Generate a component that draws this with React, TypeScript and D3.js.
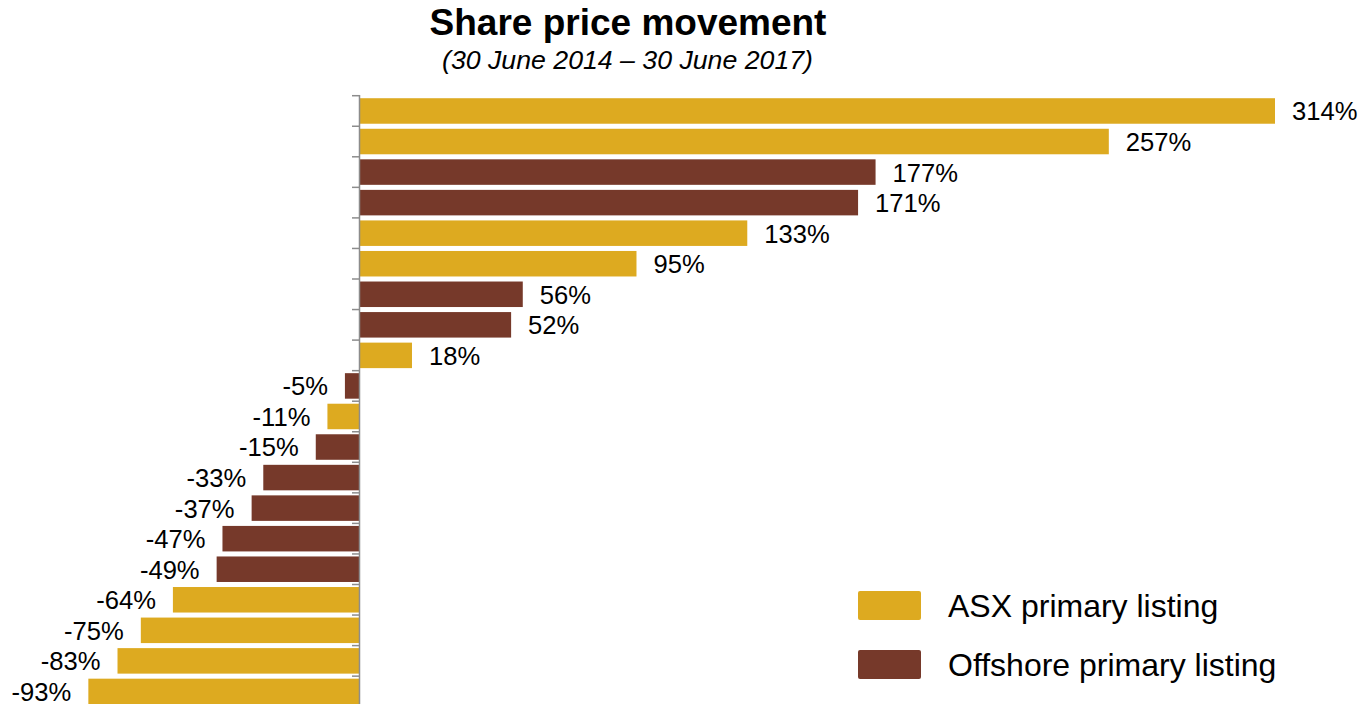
import React from "react";
import * as d3 from "d3";

const values = [314, 257, 177, 171, 133, 95, 56, 52, 18, -5, -11, -15, -33, -37, -47, -49, -64, -75, -83, -93];
const listing = ["ASX", "ASX", "Offshore", "Offshore", "ASX", "ASX", "Offshore", "Offshore", "ASX", "Offshore", "ASX", "Offshore", "Offshore", "Offshore", "Offshore", "Offshore", "ASX", "ASX", "ASX", "ASX"];
const legendKeys = ["ASX", "Offshore"];
const legendLabels = ["ASX primary listing", "Offshore primary listing"];
const title = "Share price movement";
const subtitle = "(30 June 2014 – 30 June 2017)";

const W = 1365;
const H = 704;
const FONT = "'Liberation Sans', Arial, Helvetica, sans-serif";

export default function App() {
  const color = d3.scaleOrdinal<string, string>().domain(legendKeys).range(["#DDAA20", "#76392A"]);
  const x = d3.scaleLinear().domain([0, 314]).range([359.5, 1275]);
  const idx = values.map((_, i) => String(i));
  const p = 0.165;
  const y = d3.scaleBand().domain(idx).range([95.7, 706.7]).paddingInner(p).paddingOuter(p / 2);
  const step = y.step();
  const y0 = 95.7;
  const ticks = d3.range(values.length + 1).map((i) => y0 + i * step);

  return (
    <svg width={W} height={H} style={{ position: "absolute", left: 0, top: 0, display: "block", background: "#fff" }} fontFamily={FONT}>
      <text x={628} y={35} textAnchor="middle" fontSize={37} fontWeight="bold" fill="#000">{title}</text>
      <text x={627.5} y={69} textAnchor="middle" fontSize={26.7} fontStyle="italic" fill="#000">{subtitle}</text>

      {values.map((v, i) => {
        const yy = y(String(i))!;
        const x1 = x(Math.min(0, v));
        const x2 = x(Math.max(0, v));
        return (
          <g key={i}>
            <rect x={x1} y={yy} width={x2 - x1} height={y.bandwidth()} fill={color(listing[i])} />
            <text
              x={v >= 0 ? x2 + 17 : x1 - 17}
              y={yy + y.bandwidth() / 2}
              dy="0.37em"
              textAnchor={v >= 0 ? "start" : "end"}
              fontSize={25.6}
              fill="#000"
            >
              {`${v}%`}
            </text>
          </g>
        );
      })}

      <line x1={359.5} x2={359.5} y1={95} y2={H} stroke="#8c8c8c" strokeWidth={1.5} />
      {ticks.map((t, i) => (
        <line key={i} x1={352} x2={360} y1={t} y2={t} stroke="#8c8c8c" strokeWidth={1.5} />
      ))}

      {legendKeys.map((k, i) => (
        <g key={k} transform={`translate(858, ${591 + i * 59})`}>
          <rect x={0} y={0} width={63} height={29} rx={2} fill={color(k)} />
          <text x={90} y={14.5} dy="0.36em" fontSize={32} fill="#000">{legendLabels[i]}</text>
        </g>
      ))}
    </svg>
  );
}
